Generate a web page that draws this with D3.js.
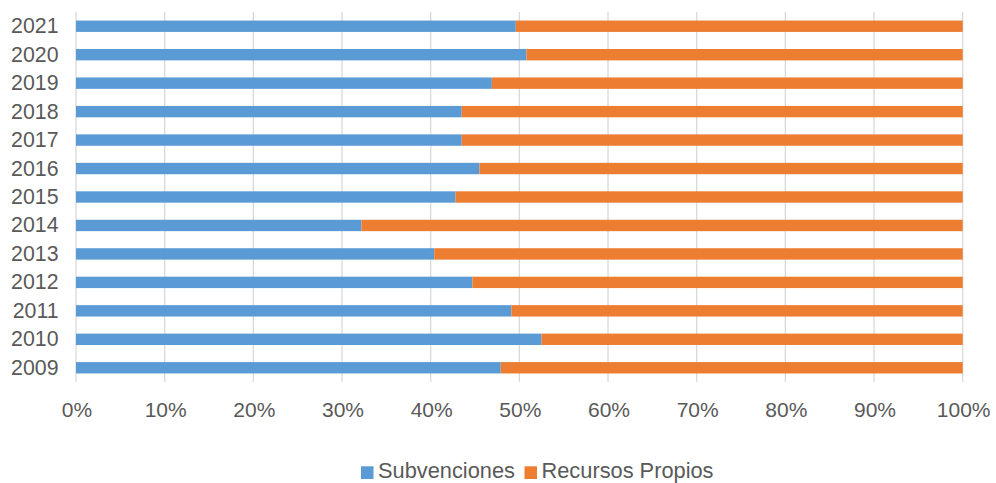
<!DOCTYPE html>
<html>
<head>
<meta charset="utf-8">
<script src="https://cdn.jsdelivr.net/npm/d3@7"></script>
<style>
  html, body { margin: 0; padding: 0; background: #fff; }
  svg { display: block; font-family: "Liberation Sans", Arial, sans-serif; }
</style>
</head>
<body>
<svg id="chart" width="996" height="483"></svg>
<script>
const years = ["2021","2020","2019","2018","2017","2016","2015","2014","2013","2012","2011","2010","2009"];
const subvenciones = [49.6, 50.8, 46.9, 43.5, 43.5, 45.5, 42.8, 32.2, 40.4, 44.7, 49.1, 52.5, 47.9];
const recursosPropios = [50.4, 49.2, 53.1, 56.5, 56.5, 54.5, 57.2, 67.8, 59.6, 55.3, 50.9, 47.5, 52.1];
const seriesNames = ["Subvenciones", "Recursos Propios"];
const seriesColors = ["#5B9BD5", "#ED7D31"];
const xTicks = [0, 10, 20, 30, 40, 50, 60, 70, 80, 90, 100];

(function () {
const svg = d3.select("#chart");
const pL = 76, pR = 962.7, pT = 12, pB = 382;

const x = d3.scaleLinear().domain([0, 100]).range([pL, pR]);
const y = d3.scaleBand().domain(years).range([pT, pB]).paddingInner(0.6).paddingOuter(0.3);

// gridlines
svg.append("g").selectAll("line").data(xTicks).join("line")
  .attr("x1", d => x(d)).attr("x2", d => x(d))
  .attr("y1", pT).attr("y2", pB)
  .attr("stroke", "#d9d9d9").attr("stroke-width", 1.3);

const rows = years.map((yr, i) => ({ yr, a: subvenciones[i], b: recursosPropios[i] }));
const tot = r => r.a + r.b;

const bars = svg.append("g");
bars.selectAll("rect.s").data(rows).join("rect")
  .attr("x", x(0))
  .attr("y", d => y(d.yr))
  .attr("width", d => x(100 * d.a / tot(d)) - x(0))
  .attr("height", y.bandwidth())
  .attr("fill", seriesColors[0]);
bars.selectAll("rect.r").data(rows).join("rect")
  .attr("x", d => x(100 * d.a / tot(d)))
  .attr("y", d => y(d.yr))
  .attr("width", d => x(100) - x(100 * d.a / tot(d)))
  .attr("height", y.bandwidth())
  .attr("fill", seriesColors[1]);

// y labels
svg.append("g").selectAll("text").data(years).join("text")
  .attr("x", 58.5)
  .attr("y", d => y(d) + y.bandwidth() / 2)
  .attr("dy", "0.33em")
  .attr("text-anchor", "end")
  .attr("font-size", 21.3)
  .attr("fill", "#595959")
  .text(d => d);

// x labels
svg.append("g").selectAll("text").data(xTicks).join("text")
  .attr("x", d => x(d) + 1)
  .attr("y", 417.3)
  .attr("text-anchor", "middle")
  .attr("font-size", 21)
  .attr("fill", "#595959")
  .text(d => d + "%");

// legend
const legendX = [361, 524.5];
const lg = svg.append("g");
seriesNames.forEach((name, i) => {
  lg.append("rect").attr("x", legendX[i]).attr("y", 466.3).attr("width", 12.5).attr("height", 12.7)
    .attr("fill", seriesColors[i]);
  lg.append("text").attr("x", legendX[i] + 17).attr("y", 478.2)
    .attr("font-size", 21.8).attr("fill", "#595959").text(name);
});
})();
</script>
</body>
</html>
